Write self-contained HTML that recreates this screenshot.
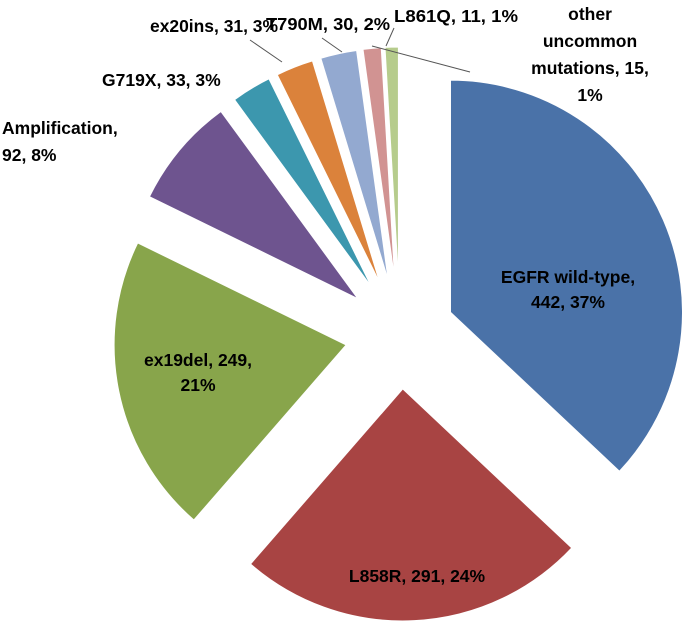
<!DOCTYPE html>
<html><head><meta charset="utf-8"><style>
body{margin:0;background:#fff;}
svg text{font-family:"Liberation Sans",sans-serif;font-weight:bold;font-size:17.5px;fill:#000;}
</style></head><body>
<svg id="chart" width="682" height="625" viewBox="0 0 682 625" xmlns="http://www.w3.org/2000/svg">
<g id="slices"></g>
<g id="labels"></g>
</svg>
<script>
const categories = ["EGFR wild-type","L858R","ex19del","Amplification","G719X","ex20ins","T790M","other uncommon mutations","L861Q"];
const values = [442,291,249,92,33,31,30,15,11];
const percents = ["37%","24%","21%","8%","3%","3%","2%","1%","1%"];
const colors = ["#4a72a8","#a84443","#88a54b","#6e548f","#3c97ae","#db823b","#93a9d0","#d19392","#b6cc8c"];
const cx=400, cy=334, r=232, explode=55;
const NS="http://www.w3.org/2000/svg";
const total = values.reduce((a,b)=>a+b,0);
function pt(a,rad,ox,oy){return [ox+rad*Math.sin(a), oy-rad*Math.cos(a)];}
let start=0;
const g=document.getElementById('slices');
values.forEach((v,i)=>{
  const span=v/total*2*Math.PI, mid=start+span/2;
  const ox=cx+explode*Math.sin(mid), oy=cy-explode*Math.cos(mid);
  const p1=pt(start,r,ox,oy), p2=pt(start+span,r,ox,oy);
  const p=document.createElementNS(NS,'path');
  p.setAttribute('d',`M${ox},${oy}L${p1[0]},${p1[1]}A${r},${r} 0 ${span>Math.PI?1:0} 1 ${p2[0]},${p2[1]}Z`);
  p.setAttribute('fill',colors[i]);
  p.setAttribute('stroke','#fff');
  
  
  g.appendChild(p);
  start+=span;
});
const lab=document.getElementById('labels');
// [lines, x, y, anchor, lineHeight, textLength(0 = natural)]
const labelPos=[
 [[categories[0]+",", values[0]+", "+percents[0]],568,283,'middle',25,0],
 [[categories[1]+", "+values[1]+", "+percents[1]],417,582,'middle',25,0],
 [[categories[2]+", "+values[2]+",", percents[2]],198,366,'middle',25,0],
 [[categories[3]+",", values[3]+", "+percents[3]],2,134,'start',27,0],
 [[categories[4]+", "+values[4]+", "+percents[4]],102,86,'start',25,0],
 [[categories[5]+", "+values[5]+", "+percents[5]],150,32,'start',25,128],
 [[categories[6]+", "+values[6]+", "+percents[6]],266,30,'start',25,124],
 [["other","uncommon","mutations, "+values[7]+",",percents[7]],590,20,'middle',27,0],
 [[categories[8]+", "+values[8]+", "+percents[8]],394,22,'start',25,124]
];
labelPos.forEach((l,i)=>{
  const t=document.createElementNS(NS,'text');
  t.setAttribute('x',l[1]);t.setAttribute('y',l[2]);t.setAttribute('text-anchor',l[3]);
  
  
  if(l[0].length===1){
    t.textContent=l[0][0];
    if(l[5]){t.setAttribute('textLength',l[5]);t.setAttribute('lengthAdjust','spacingAndGlyphs');}
  } else {
    l[0].forEach((s,j)=>{const ts=document.createElementNS(NS,'tspan');ts.setAttribute('x',l[1]);ts.setAttribute('dy',j?l[4]:0);ts.textContent=s;t.appendChild(ts);});
  }
  lab.appendChild(t);
});
const leaders=[[250,40,282,62],[322,38,342,52],[394,28,386,46],[470,72,372,46]];
leaders.forEach(a=>{
  const ln=document.createElementNS(NS,'line');
  ln.setAttribute('x1',a[0]);ln.setAttribute('y1',a[1]);ln.setAttribute('x2',a[2]);ln.setAttribute('y2',a[3]);
  ln.setAttribute('stroke','#555');ln.setAttribute('stroke-width','1');
  
  
  lab.appendChild(ln);
});
</script>
</body></html>
